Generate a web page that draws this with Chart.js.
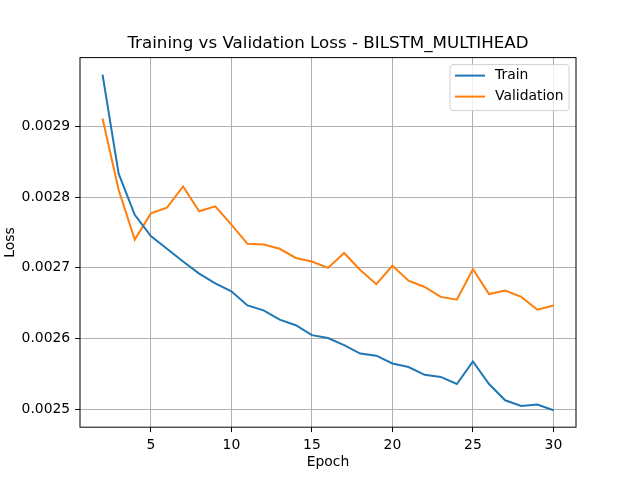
<!DOCTYPE html>
<html>
<head>
<meta charset="utf-8">
<script src="https://cdn.jsdelivr.net/npm/chart.js@4.4.1/dist/chart.umd.min.js"></script>
<style>
  html, body { margin: 0; padding: 0; background: #fff; }
  canvas { display: block; }
</style>
</head>
<body>
<canvas id="chart" width="640" height="480"></canvas>
<script>
// values
const epochs = [2, 3, 4, 5, 6, 7, 8, 9, 10, 11, 12, 13, 14, 15, 16,
                17, 18, 19, 20, 21, 22, 23, 24, 25, 26, 27, 28, 29, 30];

const trainLoss = [0.002973, 0.002833, 0.002775, 0.002745, 0.002727, 0.002709, 0.002692, 0.002678,
                   0.002667, 0.002647, 0.002640, 0.002627, 0.002619, 0.002605, 0.002601, 0.002591,
                   0.002579, 0.002576, 0.002565, 0.002560, 0.002549, 0.002546, 0.002536, 0.002568,
                   0.002536, 0.002513, 0.002505, 0.002507, 0.002499];

const valLoss = [0.002911, 0.002810, 0.002740, 0.002777, 0.002785, 0.002815, 0.002780, 0.002787,
                 0.002761, 0.002734, 0.002733, 0.002727, 0.002714, 0.002709, 0.002700, 0.002721,
                 0.002697, 0.002677, 0.002703, 0.002682, 0.002673, 0.002659, 0.002655, 0.002698,
                 0.002663, 0.002668, 0.002659, 0.002641, 0.002647];

const xTicks = [5, 10, 15, 20, 25, 30];
const yTicks = [0.0025, 0.0026, 0.0027, 0.0028, 0.0029];

const chartTitle = 'Training vs Validation Loss - BILSTM_MULTIHEAD';

const FONT = "'DejaVu Sans', sans-serif";
const TICK_PX = 4.9;   // 3.5pt

// title centred on the axes, frame + legend drawn on top (matplotlib style)
const framePlugin = {
  id: 'frame',
  afterDraw(chart) {
    const { ctx, chartArea: a } = chart;
    ctx.save();

    ctx.font = `16.7px ${FONT}`;
    ctx.fillStyle = '#000';
    ctx.textAlign = 'center';
    ctx.textBaseline = 'middle';
    ctx.fillText(chartTitle, (a.left + a.right) / 2, 43.5);

    ctx.strokeStyle = '#000';
    ctx.lineWidth = 1;
    ctx.strokeRect(a.left, a.top, a.right - a.left, a.bottom - a.top);

    // legend box, upper right
    const w = 119, h = 46;
    const x0 = a.right - 7 - w, y0 = a.top + 7;
    ctx.beginPath();
    ctx.roundRect(x0, y0, w, h, 3);
    ctx.fillStyle = 'rgba(255,255,255,0.8)';
    ctx.fill();
    ctx.strokeStyle = '#d0d0d0';
    ctx.lineWidth = 1;
    ctx.stroke();

    ctx.font = `13.9px ${FONT}`;
    ctx.textBaseline = 'middle';
    ctx.textAlign = 'left';
    chart.data.datasets.forEach((ds, i) => {
      const yy = y0 + 11 + i * 21;
      ctx.beginPath();
      ctx.moveTo(x0 + 5, yy);
      ctx.lineTo(x0 + 35, yy);
      ctx.strokeStyle = ds.borderColor;
      ctx.lineWidth = 2;
      ctx.stroke();
      ctx.fillStyle = '#000';
      ctx.fillText(ds.label, x0 + 45, yy);
    });
    ctx.restore();
  }
};

new Chart(document.getElementById('chart'), {
  type: 'line',
  data: {
    datasets: [
      {
        label: 'Train',
        data: epochs.map((e, i) => ({ x: e, y: trainLoss[i] })),
        borderColor: '#1f77b4', borderWidth: 2, pointRadius: 0, tension: 0, fill: false,
      },
      {
        label: 'Validation',
        data: epochs.map((e, i) => ({ x: e, y: valLoss[i] })),
        borderColor: '#ff7f0e', borderWidth: 2, pointRadius: 0, tension: 0, fill: false,
      },
    ]
  },
  options: {
    responsive: false,
    animation: false,
    devicePixelRatio: 1,
    layout: { padding: { left: 0, right: 64, top: 57.6, bottom: 0 } },
    plugins: {
      legend: { display: false },
      tooltip: { enabled: false },
      title: { display: false },
    },
    scales: {
      x: {
        type: 'linear',
        min: 0.6, max: 31.4,
        afterBuildTicks: s => { s.ticks = xTicks.map(v => ({ value: v })); },
        afterFit: s => { s.height = 52.8; },
        grid: { color: '#b0b0b0', lineWidth: 1, tickColor: '#000', tickLength: TICK_PX },
        border: { display: false },
        ticks: { color: '#000', padding: 4.9, maxRotation: 0, autoSkip: false,
                 font: { family: FONT, size: 13.9 } },
        title: { display: true, text: 'Epoch', color: '#000',
                 font: { family: FONT, size: 13.9 }, padding: { top: 0, bottom: 9 } },
      },
      y: {
        type: 'linear',
        min: 0.002475, max: 0.002997,
        afterBuildTicks: s => { s.ticks = yTicks.map(v => ({ value: v })); },
        afterFit: s => { s.width = 80; },
        grid: { color: '#b0b0b0', lineWidth: 1, tickColor: '#000', tickLength: TICK_PX },
        border: { display: false },
        ticks: { color: '#000', padding: 4.9, autoSkip: false,
                 font: { family: FONT, size: 13.9 },
                 callback: v => v.toFixed(4) },
        title: { display: true, text: 'Loss', color: '#000',
                 font: { family: FONT, size: 13.9 }, padding: { top: 2, bottom: 0 } },
      },
    },
  },
  plugins: [framePlugin],
});
</script>
</body>
</html>
